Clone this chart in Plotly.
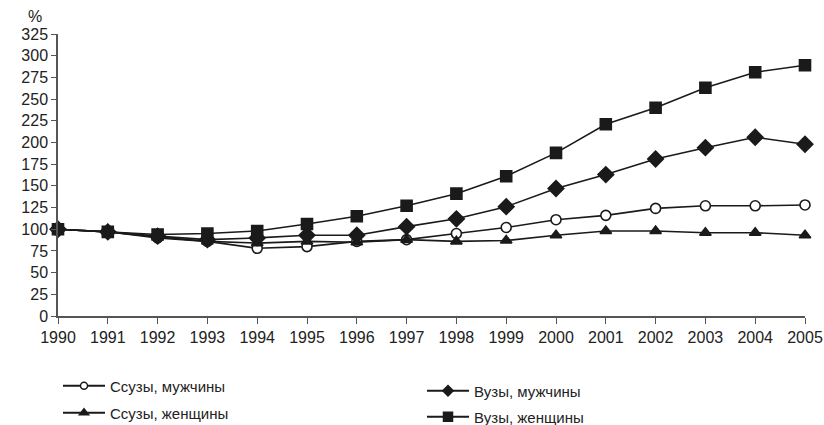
import plotly.graph_objects as go

years = list(range(1990, 2006))
ssuzy_m = [100, 97, 90, 86, 78, 80, 86, 88, 95, 102, 111, 116, 124, 127, 127, 128]
ssuzy_f = [100, 97, 91, 86, 84, 86, 85, 88, 86, 87, 93, 98, 98, 96, 96, 93]
vuzy_m = [100, 97, 92, 88, 90, 93, 93, 103, 112, 126, 147, 163, 181, 194, 206, 198]
vuzy_f = [100, 97, 94, 95, 98, 106, 115, 127, 141, 161, 188, 221, 240, 263, 281, 289]
y_ticks = list(range(0, 326, 25))

names = ["Ссузы, мужчины", "Ссузы, женщины", "Вузы, мужчины", "Вузы, женщины"]
series = [ssuzy_m, ssuzy_f, vuzy_m, vuzy_f]
symbols = ["circle", "triangle-up", "diamond", "square"]
sizes = [10, 10, 12, 11]
leg_sizes = [7, 8, 8, 9]
fills = ["white", "#1a1a1a", "#1a1a1a", "#1a1a1a"]
legends = ["legend", "legend2", "legend3", "legend4"]
INK = "#1a1a1a"

fig = go.Figure()
for name, vals, sym, sz, fc in zip(names, series, symbols, sizes, fills):
    fig.add_trace(go.Scatter(
        x=years, y=vals, name=name, mode="lines+markers", showlegend=False,
        line=dict(color=INK, width=1.6),
        marker=dict(symbol=sym, size=sz, color=fc, line=dict(color=INK, width=1.6)),
        cliponaxis=False,
    ))
# legend-only entries (smaller symbols, as in the reference legend)
for name, sym, sz, fc, lg in zip(names, symbols, leg_sizes, fills, legends):
    fig.add_trace(go.Scatter(
        x=[None], y=[None], name=name, mode="lines+markers", showlegend=True,
        line=dict(color=INK, width=1.8),
        marker=dict(symbol=sym, size=sz, color=fc, line=dict(color=INK, width=1.5)),
        legend=lg,
    ))

FW, FH = 824, 425
L, R, T, B = 58, 805, 34, 316
def px_x(p):
    return (p - L) / (R - L)
def px_y(p):
    return (B - p) / (B - T)

font = "Liberation Sans, Arial, sans-serif"
leg_common = dict(bgcolor="rgba(0,0,0,0)", borderwidth=0, itemwidth=42,
                  font=dict(family=font, size=15, color="#222"),
                  xanchor="left", yanchor="middle")

fig.update_layout(
    width=FW, height=FH, showlegend=True,
    margin=dict(l=L, r=FW - R, t=T, b=FH - B, autoexpand=False),
    plot_bgcolor="white", paper_bgcolor="white",
    font=dict(family=font, size=16, color="#222"),
    xaxis=dict(range=[1990, 2005], tickmode="array", tickvals=years,
               ticktext=[str(y) for y in years], showgrid=False, zeroline=False,
               showline=True, linecolor="#555", linewidth=1.5,
               ticks="outside", ticklen=6, tickcolor="#555", tickwidth=1.2,
               automargin=False),
    yaxis=dict(range=[0, 325], tickmode="array", tickvals=y_ticks,
               showgrid=False, zeroline=False, showline=True, linecolor="#555",
               linewidth=1.5, ticks="outside", ticklen=5, tickcolor="#555",
               tickwidth=1.2, automargin=False),
    legend=dict(x=px_x(58), y=px_y(386), **leg_common),
    legend2=dict(x=px_x(58), y=px_y(413), **leg_common),
    legend3=dict(x=px_x(422), y=px_y(391), **leg_common),
    legend4=dict(x=px_x(422), y=px_y(417), **leg_common),
    annotations=[dict(text="%", x=px_x(35), y=px_y(17), xref="paper", yref="paper",
                      xanchor="center", yanchor="middle", showarrow=False,
                      font=dict(size=16, color="#222"))],
)

fig.write_html("out.html",
               config={"displayModeBar": False},
               post_script="document.body.style.margin='0';"
                           "document.body.style.overflow='hidden';")
